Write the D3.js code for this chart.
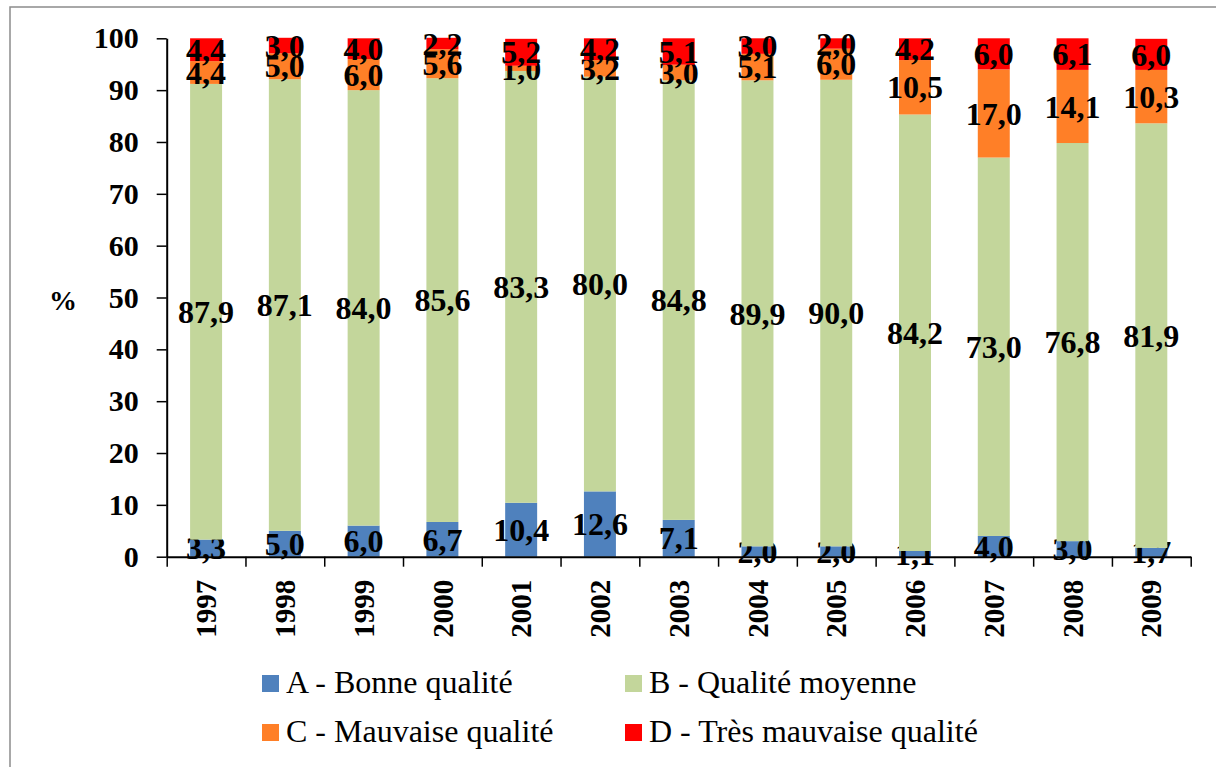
<!DOCTYPE html>
<html>
<head>
<meta charset="utf-8">
<script src="https://cdn.jsdelivr.net/npm/d3@7"></script>
<style>
  body { margin: 0; background: #fff; }
  svg { display: block; }
  svg text { font-family: 'Liberation Serif', 'Times New Roman', Tinos, 'DejaVu Serif', serif; }
</style>
</head>
<body>
<div id="chart"></div>
<script>
// Data (percentages per year)
const years = ["1997", "1998", "1999", "2000", "2001", "2002", "2003",
               "2004", "2005", "2006", "2007", "2008", "2009"];
const bonne    = [3.3, 5.0, 6.0, 6.7, 10.4, 12.6, 7.1, 2.0, 2.0, 1.1, 4.0, 3.0, 1.7];
const moyenne  = [87.9, 87.1, 84.0, 85.6, 83.3, 80.0, 84.8, 89.9, 90.0, 84.2, 73.0, 76.8, 81.9];
const mauvaise = [4.4, 5.0, 6.0, 5.6, 1.0, 3.2, 3.0, 5.1, 6.0, 10.5, 17.0, 14.1, 10.3];
const tresMauvaise = [4.4, 3.0, 4.0, 2.2, 5.2, 4.2, 5.1, 3.0, 2.0, 4.2, 6.0, 6.1, 6.0];
const seriesNames = ["A - Bonne qualité", "B - Qualité moyenne",
                     "C - Mauvaise qualité", "D - Très mauvaise qualité"];
const seriesColors = ["#4F81BD", "#C3D69B", "#FF7F27", "#FF0000"];
const yTicks = [0, 10, 20, 30, 40, 50, 60, 70, 80, 90, 100];

const width = 1216, height = 767;
const plot = { left: 166.7, right: 1190.7, top: 38.3, bottom: 556.7 };

// build rows for d3.stack
const keys = ["A", "B", "C", "D"];
const rows = years.map((y, i) => ({
  year: y, A: bonne[i], B: moyenne[i], C: mauvaise[i], D: tresMauvaise[i]
}));
const stacked = d3.stack().keys(keys)(rows);

const x = d3.scaleBand()
  .domain(years)
  .range([plot.left, plot.right])
  .paddingInner(0.594)
  .paddingOuter(0.297);

const y = d3.scaleLinear()
  .domain([0, 100])
  .range([plot.bottom, plot.top]);

const svg = d3.select("#chart").append("svg")
  .attr("width", width)
  .attr("height", height);

// chart area border (right/bottom edges lie outside the picture)
svg.append("rect")
  .attr("x", 10).attr("y", 7)
  .attr("width", width + 20).attr("height", height + 20)
  .attr("fill", "#fff")
  .attr("stroke", "#8c8c8c")
  .attr("stroke-width", 1.5);

// bars
const layers = svg.append("g").selectAll("g")
  .data(stacked)
  .enter().append("g")
  .attr("fill", (d, i) => seriesColors[i]);

layers.selectAll("rect")
  .data(d => d)
  .enter().append("rect")
  .attr("x", d => x(d.data.year))
  .attr("y", d => y(d[1]))
  .attr("width", x.bandwidth())
  .attr("height", d => y(d[0]) - y(d[1]));

// y axis
const yAxis = d3.axisLeft(y).tickValues(yTicks).tickSize(10).tickPadding(18).tickSizeOuter(0);
const gy = svg.append("g")
  .attr("transform", "translate(" + plot.left + ",0)")
  .call(yAxis);
gy.attr("font-family", null);
gy.select(".domain").attr("stroke", "#000").attr("stroke-width", 2);
gy.selectAll(".tick line").attr("stroke", "#000").attr("stroke-width", 1.5);
gy.selectAll("text")
  .attr("font-size", 30)
  .attr("font-weight", "bold")
  .attr("fill", "#000");

// x axis: boundary ticks
const xb = d3.scaleLinear().domain([0, years.length]).range([plot.left, plot.right]);
const gxTicks = svg.append("g")
  .attr("transform", "translate(0," + plot.bottom + ")")
  .call(d3.axisBottom(xb).tickValues(d3.range(years.length + 1))
    .tickSize(10).tickSizeOuter(0).tickFormat(""));
gxTicks.select(".domain").attr("stroke", "#000").attr("stroke-width", 2);
gxTicks.selectAll(".tick line").attr("stroke", "#000").attr("stroke-width", 1.5);

// x axis: year labels (rotated)
const gx = svg.append("g")
  .attr("transform", "translate(0," + plot.bottom + ")")
  .call(d3.axisBottom(x).tickSize(0));
gx.attr("font-family", null);
gx.select(".domain").remove();
gx.selectAll("text")
  .attr("font-size", 29)
  .attr("font-weight", "bold")
  .attr("fill", "#000")
  .attr("transform", "rotate(-90)")
  .attr("text-anchor", "end")
  .attr("x", -23)
  .attr("y", 0)
  .attr("dy", "0.35em");

// y axis title
svg.append("text")
  .attr("x", 63).attr("y", 300)
  .attr("dy", "0.35em")
  .attr("text-anchor", "middle")
  .attr("font-size", 28)
  .attr("font-weight", "bold")
  .text("%");

// data labels in the middle of each segment
const fmt = v => v.toFixed(1).replace(".", ",");
layers.selectAll("text")
  .data(d => d)
  .enter().append("text")
  .attr("x", d => x(d.data.year) + x.bandwidth() / 2)
  .attr("y", d => y((d[0] + d[1]) / 2))
  .attr("dy", "0.35em")
  .attr("text-anchor", "middle")
  .attr("font-size", 32)
  .attr("font-weight", "bold")
  .attr("fill", "#000")
  .text(d => fmt(d[1] - d[0]));

// legend
const legendPos = [[262, 693], [625, 693], [262, 742], [625, 742]];
const legend = svg.append("g").selectAll("g")
  .data(seriesNames)
  .enter().append("g")
  .attr("transform", (d, i) => "translate(" + legendPos[i][0] + "," + legendPos[i][1] + ")");

legend.append("rect")
  .attr("x", 0).attr("y", -18)
  .attr("width", 17).attr("height", 17)
  .attr("fill", (d, i) => seriesColors[i]);

legend.append("text")
  .attr("x", 24).attr("y", 0)
  .attr("font-size", 32)
  .attr("fill", "#000")
  .text(d => d);
</script>
</body>
</html>
